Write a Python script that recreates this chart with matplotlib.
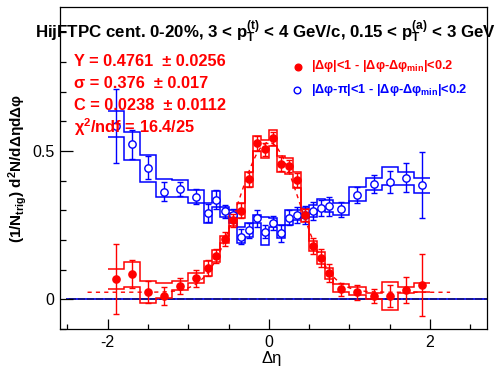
import numpy as np
import matplotlib
matplotlib.use("Agg")
import matplotlib.pyplot as plt
from matplotlib.ticker import MultipleLocator, FixedLocator

plt.rcParams['font.family'] = ['Liberation Sans', 'DejaVu Sans']
plt.rcParams['mathtext.fontset'] = 'custom'
plt.rcParams['mathtext.rm'] = 'Liberation Sans'
plt.rcParams['mathtext.it'] = 'Liberation Sans:italic'
plt.rcParams['mathtext.bf'] = 'Liberation Sans:bold'
plt.rcParams['axes.unicode_minus'] = False

# ---------------- data ----------------
bin_edges = [-2.0, -1.8, -1.6, -1.4, -1.2, -1.0, -0.8, -0.7, -0.6, -0.5, -0.4,
             -0.3, -0.2, -0.1, 0.0, 0.1, 0.2, 0.3, 0.4, 0.5, 0.6, 0.7, 0.8,
             1.0, 1.2, 1.4, 1.6, 1.8, 2.0]

near_vals = [0.067, 0.085, 0.024, 0.011, 0.045, 0.071, 0.105, 0.146, 0.203, 0.267,
             0.299, 0.404, 0.526, 0.506, 0.543, 0.456, 0.449, 0.402, 0.283, 0.180,
             0.140, 0.088, 0.034, 0.024, 0.011, 0.011, 0.031, 0.048]
near_err = [0.118, 0.047, 0.038, 0.031, 0.026, 0.028, 0.028, 0.025, 0.025, 0.022,
            0.025, 0.025, 0.026, 0.022, 0.022, 0.022, 0.020, 0.025, 0.020, 0.028,
            0.031, 0.031, 0.022, 0.025, 0.025, 0.036, 0.045, 0.105]
near_sys_lo = [0.034, 0.040, -0.011, 0.003, 0.031, 0.055, 0.078, 0.125, 0.190, 0.247,
               0.274, 0.379, 0.500, 0.476, 0.516, 0.429, 0.422, 0.374, 0.262, 0.163,
               0.120, 0.070, 0.024, 0.015, 0.000, -0.036, 0.020, 0.026]
near_sys_hi = [0.101, 0.125, 0.063, 0.054, 0.063, 0.088, 0.130, 0.165, 0.215, 0.290,
               0.324, 0.429, 0.552, 0.536, 0.570, 0.483, 0.476, 0.430, 0.304, 0.197,
               0.160, 0.105, 0.051, 0.040, 0.020, 0.057, 0.042, 0.056]

away_vals = [0.584, 0.522, 0.4435, 0.363, 0.373, 0.346, 0.290, 0.336, 0.297, 0.284,
             0.211, 0.232, 0.273, 0.228, 0.258, 0.222, 0.275, 0.284, 0.284, 0.298,
             0.308, 0.313, 0.304, 0.351, 0.388, 0.395, 0.409, 0.385]
away_err = [0.125, 0.048, 0.039, 0.031, 0.024, 0.025, 0.031, 0.031, 0.022, 0.022,
            0.025, 0.025, 0.028, 0.022, 0.024, 0.028, 0.025, 0.028, 0.030, 0.031,
            0.028, 0.032, 0.025, 0.028, 0.030, 0.038, 0.049, 0.110]
away_sys_lo = [0.546, 0.469, 0.396, 0.344, 0.344, 0.324, 0.256, 0.312, 0.278, 0.257,
               0.189, 0.211, 0.257, 0.183, 0.244, 0.207, 0.250, 0.267, 0.273, 0.277,
               0.301, 0.295, 0.284, 0.332, 0.368, 0.385, 0.385, 0.357]
away_sys_hi = [0.636, 0.565, 0.486, 0.404, 0.402, 0.368, 0.323, 0.365, 0.312, 0.300,
               0.245, 0.257, 0.284, 0.278, 0.274, 0.250, 0.301, 0.301, 0.308, 0.318,
               0.338, 0.335, 0.326, 0.377, 0.408, 0.445, 0.430, 0.408]

fit_Y, fit_Y_err = 0.4761, 0.0256
fit_sigma, fit_sigma_err = 0.376, 0.017
fit_C, fit_C_err = 0.0238, 0.0112
fit_chi2, fit_ndf = 16.4, 25
fit_range = (-2.25, 2.25)

x_ticks = [-2, 0, 2]
y_ticks = [0, 0.5]

title_text = (r"HijFTPC cent. 0-20%, 3 < p$_{\mathbf{T}}^{\mathbf{(t)}}$ < 4 GeV/c, "
              r"0.15 < p$_{\mathbf{T}}^{\mathbf{(a)}}$ < 3 GeV")
near_label = r"|Δφ|<1 - |Δφ-Δφ$_{\mathbf{min}}$|<0.2"
away_label = r"|Δφ-π|<1 - |Δφ-Δφ$_{\mathbf{min}}$|<0.2"

# ---------------- figure ----------------
W, H = 496, 374
fig = plt.figure(figsize=(W / 100, H / 100), dpi=100)
ax = fig.add_axes([60 / W, 1 - 329 / H, (486.7 - 60) / W, (329 - 7) / H])

RED = '#ff0000'
BLUE = '#0000ff'
NAVY = '#000080'

edges = np.array(bin_edges)
centers = 0.5 * (edges[:-1] + edges[1:])

# zero line
ax.plot([-2.5, 2.704], [0, 0], color=NAVY, lw=1.3, zorder=1)
ax.plot([-2.5, 2.704], [0, 0], color='#2222ff', lw=1.3, ls=(0, (1, 4)), zorder=1.1)

# systematic step outlines
ax.stairs(away_sys_hi, edges, baseline=None, color=BLUE, lw=1.1, zorder=2)
ax.stairs(away_sys_lo, edges, baseline=None, color=BLUE, lw=1.1, zorder=2)
ax.stairs(near_sys_hi, edges, baseline=None, color=RED, lw=1.1, zorder=2)
ax.stairs(near_sys_lo, edges, baseline=None, color=RED, lw=1.1, zorder=2)

# fit curve
xf = np.linspace(fit_range[0], fit_range[1], 400)
yf = fit_C + fit_Y / (np.sqrt(2 * np.pi) * fit_sigma) * np.exp(-xf ** 2 / (2 * fit_sigma ** 2))
ax.plot(xf, yf, color=RED, lw=1.0, ls=(0, (3, 3)), zorder=2.5)

# data points
ax.errorbar(centers, away_vals, yerr=away_err, fmt='o', ms=5.3, mfc='white',
            mec=BLUE, mew=1.0, color=BLUE, elinewidth=1.0, capsize=2.2,
            capthick=1.0, zorder=3)
ax.errorbar(centers, near_vals, yerr=near_err, fmt='o', ms=5.2, mfc=RED,
            mec=RED, color=RED, elinewidth=1.0, capsize=2.2,
            capthick=1.0, zorder=4)

ax.set_xlim(-2.592, 2.704)
ax.set_ylim(-0.1, 0.985)

ax.xaxis.set_major_locator(FixedLocator(x_ticks))
ax.xaxis.set_minor_locator(MultipleLocator(0.5))
ax.yaxis.set_major_locator(FixedLocator(y_ticks))
ax.yaxis.set_minor_locator(MultipleLocator(0.1))
ax.set_xticklabels([str(t) for t in x_ticks])
ax.set_yticklabels(['0', '0.5'])

ax.tick_params(axis='both', which='both', direction='in', top=False, right=False,
               width=0.9, labelsize=11.5, color='black')
ax.tick_params(axis='x', which='major', length=7.2, pad=4.5)
ax.tick_params(axis='x', which='minor', length=3.6)
ax.tick_params(axis='y', which='major', length=9.0, pad=4)
ax.tick_params(axis='y', which='minor', length=4.3)
for s in ax.spines.values():
    s.set_linewidth(0.9)

def fx(px):
    return px / W

def fy(py):
    return 1 - py / H

# title
fig.text(fx(35), fy(38), title_text, fontsize=12.2, fontweight='bold',
         ha='left', va='baseline', color='black')

# fit stats
stats = [f"Y = {fit_Y:.4f}  ± {fit_Y_err:.4f}",
         f"σ = {fit_sigma:.3f}  ± {fit_sigma_err:.3f}",
         f"C = {fit_C:.4f}  ± {fit_C_err:.4f}",
         r"χ$^{\mathbf{2}}$/ndf = " + f"{fit_chi2:.1f}/{fit_ndf}"]
for i, s in enumerate(stats):
    fig.text(fx(74), fy(66 + 22.2 * i), s, fontsize=11.8, fontweight='bold',
             color=RED, ha='left', va='baseline')

# legend
fig.lines.append(plt.Line2D([fx(298)], [fy(67)], marker='o', ms=4.8, color=RED,
                            mfc=RED, mec=RED, transform=fig.transFigure))
fig.lines.append(plt.Line2D([fx(297)], [fy(90)], marker='o', ms=4.8, color=BLUE,
                            mfc='white', mec=BLUE, mew=1.0, transform=fig.transFigure))
fig.text(fx(311), fy(69), near_label, fontsize=9.2, fontweight='bold', color=RED,
         ha='left', va='baseline')
fig.text(fx(311), fy(93), away_label, fontsize=9.2, fontweight='bold', color=BLUE,
         ha='left', va='baseline')

# axis titles
fig.text(fx(272), fy(363), "Δη", fontsize=12, ha='center', va='baseline')
fig.text(fx(18), fy(168), r"(1/N$_{\mathbf{trig}}$) d$^{\mathbf{2}}$N/dΔηdΔφ",
         fontsize=11, fontweight='bold', rotation=90, ha='center', va='center')

fig.savefig("out.png", dpi=100)
